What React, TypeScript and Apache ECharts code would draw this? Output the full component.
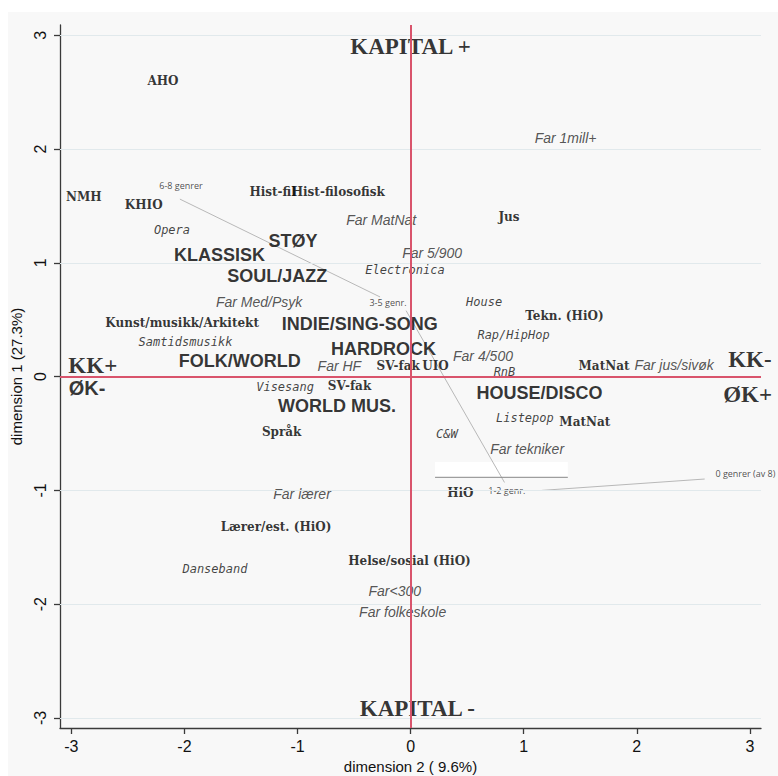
import React, { useEffect, useRef } from "react";
import * as echarts from "echarts";

// ---- data (dimension 2 = x, dimension 1 = y) ----
const xTicks = [-3, -2, -1, 0, 1, 2, 3];
const yTicks = [-3, -2, -1, 0, 1, 2, 3];

const institutions: [string, number, number][] = [
  ["AHO", -2.19, 2.6],
  ["NMH", -2.89, 1.58],
  ["KHIO", -2.36, 1.51],
  ["Hist-fil", -1.22, 1.62],
  ["Hist-filosofisk", -0.64, 1.62],
  ["Jus", 0.87, 1.4],
  ["Kunst/musikk/Arkitekt", -2.02, 0.47],
  ["Tekn. (HiO)", 1.36, 0.53],
  ["SV-fak", -0.11, 0.09],
  ["UIO", 0.22, 0.09],
  ["MatNat", 1.71, 0.09],
  ["SV-fak", -0.54, -0.08],
  ["MatNat", 1.54, -0.4],
  ["Språk", -1.14, -0.49],
  ["HiO", 0.44, -1.02],
  ["Lærer/est. (HiO)", -1.19, -1.32],
  ["Helse/sosial (HiO)", -0.01, -1.62],
];

const clusters: [string, number, number][] = [
  ["STØY", -1.04, 1.19],
  ["KLASSISK", -1.69, 1.07],
  ["SOUL/JAZZ", -1.18, 0.88],
  ["INDIE/SING-SONG", -0.45, 0.46],
  ["HARDROCK", -0.24, 0.24],
  ["FOLK/WORLD", -1.51, 0.14],
  ["WORLD MUS.", -0.65, -0.26],
  ["HOUSE/DISCO", 1.14, -0.14],
];

const fathers: [string, number, number][] = [
  ["Far 1mill+", 1.37, 2.1],
  ["Far MatNat", -0.26, 1.38],
  ["Far 5/900", 0.19, 1.09],
  ["Far Med/Psyk", -1.34, 0.66],
  ["Far HF", -0.63, 0.09],
  ["Far 4/500", 0.64, 0.18],
  ["Far jus/sivøk", 2.33, 0.1],
  ["Far tekniker", 1.03, -0.64],
  ["Far lærer", -0.96, -1.03],
  ["Far<300", -0.14, -1.88],
  ["Far folkeskole", -0.07, -2.07],
];

const genres: [string, number, number][] = [
  ["Opera", -2.11, 1.29],
  ["Electronica", -0.05, 0.94],
  ["Samtidsmusikk", -1.99, 0.3],
  ["House", 0.65, 0.66],
  ["Rap/HipHop", 0.91, 0.37],
  ["RnB", 0.83, 0.04],
  ["Visesang", -1.11, -0.09],
  ["Listepop", 1.01, -0.36],
  ["C&W", 0.32, -0.5],
  ["Danseband", -1.73, -1.69],
];

const genreCounts: [string, number, number][] = [
  ["6-8 genrer", -2.03, 1.68],
  ["3-5 genr.", -0.2, 0.65],
  ["1-2 genr.", 0.85, -1.0],
  ["0 genrer (av 8)", 2.96, -0.85],
];

const poleSerif: [string, number, number][] = [
  ["KAPITAL +", 0.0, 2.9],
  ["KAPITAL -", 0.06, -2.92],
  ["KK+", -2.81, 0.1],
  ["KK-", 3.0, 0.15],
  ["ØK+", 2.98, -0.16],
];
const poleSans: [string, number, number][] = [["ØK-", -2.86, -0.1]];

// connector lines between genre-count labels
const connectors: [number, number][][] = [
  [[-2.04, 1.56], [-0.27, 0.7]],
  [[-0.04, 0.58], [0.83, -0.93]],
  [[1.16, -1.0], [2.6, -0.9]],
];
const whiteBox: [number, number][] = [[0.216, -0.75], [1.39, -0.88]];
const boxUnderline: [number, number][] = [[0.216, -0.885], [1.39, -0.885]];

function textSeries(
  name: string,
  items: [string, number, number][],
  font: Record<string, any>
) {
  return {
    name,
    type: "scatter",
    symbolSize: 0,
    z: 4,
    silent: true,
    data: items.map(([n, x, y]) => ({ name: n, value: [x, y] })),
    label: {
      show: true,
      position: "inside",
      align: "center",
      verticalAlign: "middle",
      formatter: (p: any) => p.name,
      color: "#111",
      textBorderWidth: 0,
      textBorderColor: "transparent",
      ...font,
    },
  };
}

export default function App() {
  const ref = useRef<HTMLDivElement>(null);
  useEffect(() => {
    if (!ref.current) return;
    const chart = echarts.init(ref.current, undefined, { renderer: "svg" });
    const series: any[] = [
      {
        type: "scatter",
        data: [],
        z: 1,
        silent: true,
        markLine: {
          silent: true,
          symbol: "none",
          label: { show: false },
          lineStyle: { color: "#e1e9ec", width: 1, type: "solid" },
          data: yTicks.map((v) => ({ yAxis: v })),
        },
      },
      ...connectors.map((seg) => ({
        type: "line",
        data: seg,
        z: 2,
        symbol: "none",
        silent: true,
        lineStyle: { color: "#b8b8b8", width: 1 },
      })),
      {
        type: "line",
        data: boxUnderline,
        z: 3,
        symbol: "none",
        silent: true,
        lineStyle: { color: "#8a8a8a", width: 1 },
        markArea: {
          silent: true,
          itemStyle: { color: "#ffffff" },
          data: [[{ coord: whiteBox[0] }, { coord: whiteBox[1] }]],
        },
      },
      textSeries("inst", institutions, {
        fontFamily: "DejaVu Serif",
        fontWeight: "bold",
        fontSize: 12,
        color: "#000",
      }),
      textSeries("clusters", clusters, {
        fontFamily: "Liberation Sans",
        fontWeight: "bold",
        fontSize: 18,
        color: "#000",
      }),
      textSeries("fathers", fathers, {
        fontFamily: "Liberation Sans",
        fontStyle: "italic",
        fontSize: 14,
        color: "#2a2a2a",
      }),
      textSeries("genres", genres, {
        fontFamily: "DejaVu Sans Mono",
        fontStyle: "italic",
        fontSize: 12,
        color: "#111",
      }),
      textSeries("counts", genreCounts, {
        fontFamily: "Open Sans",
        fontSize: 9,
        color: "#222",
      }),
      textSeries("polesSerif", poleSerif, {
        fontFamily: "Liberation Serif",
        fontWeight: "bold",
        fontSize: 23,
        color: "#000",
      }),
      textSeries("polesSans", poleSans, {
        fontFamily: "Liberation Sans",
        fontWeight: "bold",
        fontSize: 20,
        color: "#000",
      }),
      {
        type: "scatter",
        data: [],
        z: 6,
        silent: true,
        markLine: {
          silent: true,
          symbol: "none",
          label: { show: false },
          lineStyle: { color: "#d9546c", width: 2, type: "solid" },
          data: [{ xAxis: 0 }, { yAxis: 0 }],
        },
      },
    ];
    chart.setOption({
      animation: false,
      backgroundColor: "#f8f8f8",
      grid: { left: 52, top: 13, right: 17, bottom: 48, outerBoundsMode: "none", containLabel: false },
      xAxis: {
        type: "value",
        min: -3.1,
        max: 3.098,
        name: "dimension 2 ( 9.6%)",
        nameLocation: "middle",
        nameGap: 26,
        nameTextStyle: { fontFamily: "Liberation Sans", fontSize: 15, color: "#111" },
        axisLine: { show: true, onZero: false, lineStyle: { color: "#3a3a3a", width: 1.3 } },
        axisTick: {
          show: true,
          length: 6,
          customValues: xTicks,
          lineStyle: { color: "#3a3a3a", width: 1.3 },
        },
        axisLabel: {
          customValues: xTicks,
          fontFamily: "Liberation Sans",
          fontSize: 16,
          color: "#111",
          margin: 10,
        },
        splitLine: { show: false },
      },
      yAxis: {
        type: "value",
        min: -3.088,
        max: 3.09,
        name: "dimension 1 (27.3%)",
        nameLocation: "middle",
        nameGap: 23,
        nameRotate: 90,
        nameTextStyle: { fontFamily: "Liberation Sans", fontSize: 15, color: "#111" },
        axisLine: { show: true, onZero: false, lineStyle: { color: "#3a3a3a", width: 1.3 } },
        axisTick: {
          show: true,
          length: 6,
          customValues: yTicks,
          lineStyle: { color: "#3a3a3a", width: 1.3 },
        },
        axisLabel: {
          customValues: yTicks,
          rotate: 90,
          fontFamily: "Liberation Sans",
          fontSize: 16,
          color: "#111",
          margin: 12,
        },
        splitLine: { show: false },
      },
      series,
    });
    return () => chart.dispose();
  }, []);
  return (
    <div
      style={{
        position: "fixed",
        left: 0,
        top: 0,
        width: 778,
        height: 776,
        background: "#ffffff",
      }}
    >
      <div
        ref={ref}
        style={{ position: "absolute", left: 8, top: 12, width: 770, height: 764 }}
      />
    </div>
  );
}
